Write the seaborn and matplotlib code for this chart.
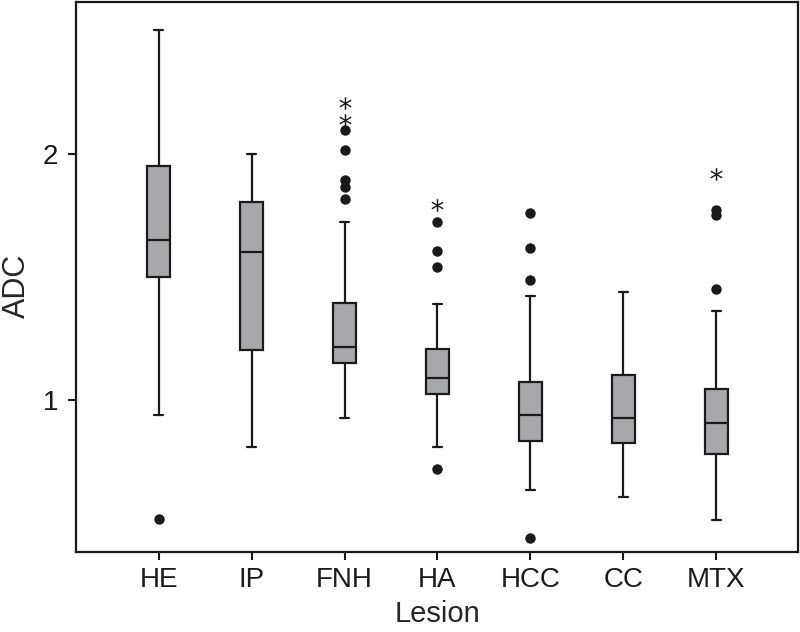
import matplotlib
matplotlib.use("Agg")
import matplotlib.pyplot as plt
import seaborn as sns
import pandas as pd

sns.set_style("white")
plt.rcParams["font.family"] = ["Liberation Sans", "DejaVu Sans"]

# ---------------------------------------------------
# Data
# ---------------------------------------------------

lesions = ["HE", "IP", "FNH", "HA", "HCC", "CC", "MTX"]

whisker_low = [0.938, 0.810, 0.926, 0.810, 0.634, 0.607, 0.515]
q1 = [1.499, 1.205, 1.151, 1.023, 0.835, 0.825, 0.783]
median = [1.650, 1.599, 1.217, 1.090, 0.938, 0.928, 0.907]
q3 = [1.949, 1.802, 1.394, 1.206, 1.074, 1.100, 1.046]
whisker_high = [2.501, 2.000, 1.721, 1.391, 1.424, 1.437, 1.362]

# outliers (circles) and extreme values (stars)
out_lesion = ["HE", "FNH", "FNH", "FNH", "FNH", "FNH",
              "HA", "HA", "HA", "HA",
              "HCC", "HCC", "HCC", "HCC",
              "MTX", "MTX", "MTX"]
out_value = [0.517, 2.096, 2.015, 1.891, 1.864, 1.817,
             1.722, 1.603, 1.538, 0.719,
             1.760, 1.618, 1.487, 0.440,
             1.769, 1.749, 1.449]

ext_lesion = ["FNH", "FNH", "HA", "MTX"]
ext_value = [2.204, 2.137, 1.792, 1.916]

BOX_COLOR = "#a7a8ab"

# ---------------------------------------------------
# Plot
# ---------------------------------------------------

fig = plt.figure(figsize=(8, 6.32), dpi=100)
ax = fig.add_axes([0.095, 0.127, 0.9025, 0.870])

stats = []
for i, name in enumerate(lesions):
    stats.append({
        "label": name,
        "whislo": whisker_low[i],
        "q1": q1[i],
        "med": median[i],
        "q3": q3[i],
        "whishi": whisker_high[i],
        "fliers": [],
    })

ax.bxp(stats,
       positions=range(len(lesions)),
       widths=0.25,
       capwidths=0.1,
       patch_artist=True,
       showfliers=False,
       boxprops=dict(facecolor=BOX_COLOR, edgecolor="#1a1a1a", linewidth=1.6),
       medianprops=dict(color="#1a1a1a", linewidth=1.6),
       whiskerprops=dict(color="#1a1a1a", linewidth=1.6),
       capprops=dict(color="#1a1a1a", linewidth=1.6))

outliers = pd.DataFrame({"Lesion": out_lesion, "ADC": out_value})
extremes = pd.DataFrame({"Lesion": ext_lesion, "ADC": ext_value})

sns.stripplot(data=outliers, x="Lesion", y="ADC", order=lesions,
              jitter=False, color="#1a1a1a", size=7.5, ax=ax, zorder=5)
sns.stripplot(data=extremes, x="Lesion", y="ADC", order=lesions,
              jitter=False, color="#1a1a1a", size=9, marker="$*$",
              linewidth=0, ax=ax, zorder=5)

ax.set_xlim(-0.89, 6.88)
ax.set_ylim(0.385, 2.615)
ax.set_yticks([1, 2])
ax.set_yticklabels(["1", "2"])
ax.set_xticks(range(len(lesions)))
ax.set_xticklabels(lesions)

ax.set_xlabel("Lesion", fontsize=21)
ax.xaxis.set_label_coords(0.501, -0.088)
ax.set_ylabel("ADC", fontsize=22)
ax.yaxis.set_label_coords(-0.061, 0.484)

ax.tick_params(axis="both", labelsize=20, length=6, width=1.5,
               direction="out", color="#1a1a1a", labelcolor="#1a1a1a")
ax.tick_params(axis="x", pad=5)
ax.tick_params(axis="y", pad=7)
ax.xaxis.set_ticks_position("bottom")
ax.yaxis.set_ticks_position("left")

for spine in ax.spines.values():
    spine.set_visible(True)
    spine.set_color("#1a1a1a")
    spine.set_linewidth(1.6)

fig.savefig("out.png", dpi=100)
